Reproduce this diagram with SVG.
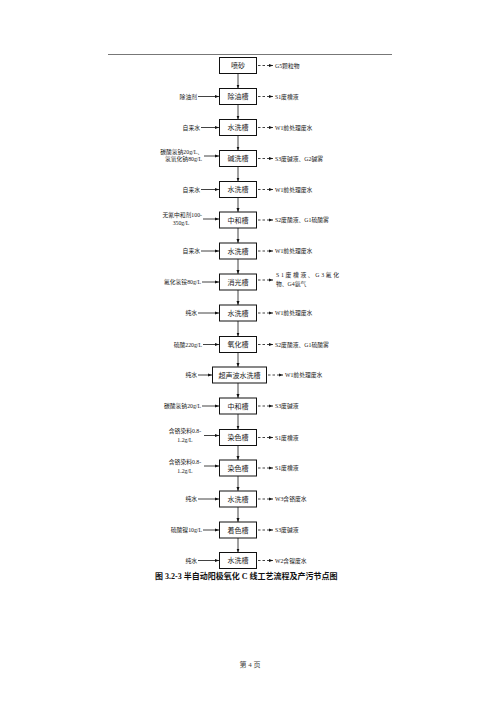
<svg xmlns="http://www.w3.org/2000/svg" width="500" height="707" viewBox="0 0 500 707">
<style>
.bx{fill:#fff;stroke:#111;stroke-width:1}
.bt{font-family:"Liberation Serif","Noto Sans CJK SC",serif;font-size:7px;fill:#1a1a1a;text-anchor:middle}
.lt{font-family:"Liberation Serif","Noto Sans CJK SC",serif;font-size:5.8px;fill:#1a1a1a}
.r{text-anchor:end}
.m{text-anchor:middle}
.sl{stroke:#111;stroke-width:0.8;fill:none}
.dl{stroke:#111;stroke-width:0.8;fill:none;stroke-dasharray:2.5,2}
</style>
<defs>
<marker id="ah" markerWidth="4" markerHeight="4" refX="4" refY="2" orient="auto" markerUnits="userSpaceOnUse">
<path d="M0,0.5 L4,2 L0,3.5 Z" fill="#111"/>
</marker>
</defs>
<rect width="500" height="707" fill="#fff"/>
<line x1="108" y1="54.5" x2="392" y2="54.5" stroke="#777" stroke-width="1"/>

<g id="connectors">
<!-- vertical -->
<line class="sl" x1="238" y1="73.5" x2="238" y2="88.5" marker-end="url(#ah)"/>
<line class="sl" x1="238" y1="104.5" x2="238" y2="119.5" marker-end="url(#ah)"/>
<line class="sl" x1="238" y1="135.5" x2="238" y2="150.5" marker-end="url(#ah)"/>
<line class="sl" x1="238" y1="166.5" x2="238" y2="181.5" marker-end="url(#ah)"/>
<line class="sl" x1="238" y1="197.5" x2="238" y2="212" marker-end="url(#ah)"/>
<line class="sl" x1="238" y1="228" x2="238" y2="243" marker-end="url(#ah)"/>
<line class="sl" x1="238" y1="259" x2="238" y2="274" marker-end="url(#ah)"/>
<line class="sl" x1="238" y1="290" x2="238" y2="305" marker-end="url(#ah)"/>
<line class="sl" x1="238" y1="321" x2="238" y2="336.5" marker-end="url(#ah)"/>
<line class="sl" x1="238" y1="352.5" x2="238" y2="367" marker-end="url(#ah)"/>
<line class="sl" x1="238" y1="383" x2="238" y2="398" marker-end="url(#ah)"/>
<line class="sl" x1="238" y1="414" x2="238" y2="429.5" marker-end="url(#ah)"/>
<line class="sl" x1="238" y1="445.5" x2="238" y2="460" marker-end="url(#ah)"/>
<line class="sl" x1="238" y1="476" x2="238" y2="491" marker-end="url(#ah)"/>
<line class="sl" x1="238" y1="507" x2="238" y2="522" marker-end="url(#ah)"/>
<line class="sl" x1="238" y1="538" x2="238" y2="552.5" marker-end="url(#ah)"/>
<!-- left inputs -->
<line class="sl" x1="198" y1="96.5" x2="219" y2="96.5" marker-end="url(#ah)"/>
<line class="sl" x1="201" y1="127.5" x2="219" y2="127.5" marker-end="url(#ah)"/>
<line class="sl" x1="204" y1="156" x2="219" y2="156" marker-end="url(#ah)"/>
<line class="sl" x1="201" y1="189.5" x2="219" y2="189.5" marker-end="url(#ah)"/>
<line class="sl" x1="203" y1="219" x2="219" y2="219" marker-end="url(#ah)"/>
<line class="sl" x1="201" y1="251" x2="219" y2="251" marker-end="url(#ah)"/>
<line class="sl" x1="202" y1="282" x2="219" y2="282" marker-end="url(#ah)"/>
<line class="sl" x1="198" y1="313" x2="219" y2="313" marker-end="url(#ah)"/>
<line class="sl" x1="203" y1="344.5" x2="219" y2="344.5" marker-end="url(#ah)"/>
<line class="sl" x1="198" y1="375" x2="212" y2="375" marker-end="url(#ah)"/>
<line class="sl" x1="202" y1="406" x2="219" y2="406" marker-end="url(#ah)"/>
<line class="sl" x1="204" y1="435.5" x2="219" y2="435.5" marker-end="url(#ah)"/>
<line class="sl" x1="204" y1="466" x2="219" y2="466" marker-end="url(#ah)"/>
<line class="sl" x1="198" y1="499" x2="219" y2="499" marker-end="url(#ah)"/>
<line class="sl" x1="203" y1="530" x2="219" y2="530" marker-end="url(#ah)"/>
<line class="sl" x1="198" y1="560.5" x2="219" y2="560.5" marker-end="url(#ah)"/>
<!-- right outputs -->
<line class="dl" x1="258" y1="65.5" x2="273" y2="65.5" marker-end="url(#ah)"/>
<line class="dl" x1="258" y1="96.5" x2="273" y2="96.5" marker-end="url(#ah)"/>
<line class="dl" x1="258" y1="127.5" x2="273" y2="127.5" marker-end="url(#ah)"/>
<line class="dl" x1="258" y1="158.5" x2="273" y2="158.5" marker-end="url(#ah)"/>
<line class="dl" x1="258" y1="189.5" x2="273" y2="189.5" marker-end="url(#ah)"/>
<line class="dl" x1="258" y1="220" x2="273" y2="220" marker-end="url(#ah)"/>
<line class="dl" x1="258" y1="251" x2="273" y2="251" marker-end="url(#ah)"/>
<line class="dl" x1="258" y1="280" x2="273" y2="280" marker-end="url(#ah)"/>
<line class="dl" x1="258" y1="313" x2="273" y2="313" marker-end="url(#ah)"/>
<line class="dl" x1="258" y1="344.5" x2="273" y2="344.5" marker-end="url(#ah)"/>
<line class="dl" x1="268" y1="375" x2="283" y2="375" marker-end="url(#ah)"/>
<line class="dl" x1="258" y1="406" x2="273" y2="406" marker-end="url(#ah)"/>
<line class="dl" x1="258" y1="437.5" x2="273" y2="437.5" marker-end="url(#ah)"/>
<line class="dl" x1="258" y1="468" x2="273" y2="468" marker-end="url(#ah)"/>
<line class="dl" x1="258" y1="499" x2="273" y2="499" marker-end="url(#ah)"/>
<line class="dl" x1="258" y1="530" x2="273" y2="530" marker-end="url(#ah)"/>
<line class="dl" x1="258" y1="560.5" x2="273" y2="560.5" marker-end="url(#ah)"/>
</g>

<g id="n1"><rect class="bx" x="219.5" y="57.5" width="37" height="16"/><text class="bt" x="238" y="68">喷砂</text><text class="lt" x="275" y="67.5">G5颗粒物</text></g>
<g id="n2"><rect class="bx" x="219.5" y="88.5" width="37" height="16"/><text class="bt" x="238" y="99">除油槽</text><text class="lt r" x="197" y="98.5">除油剂</text><text class="lt" x="275" y="98.5">S1废槽液</text></g>
<g id="n3"><rect class="bx" x="219.5" y="119.5" width="37" height="16"/><text class="bt" x="238" y="130">水洗槽</text><text class="lt r" x="200" y="129.5">自来水</text><text class="lt" x="275" y="129.5">W1前处理废水</text></g>
<g id="n4"><rect class="bx" x="219.5" y="150.5" width="37" height="16"/><text class="bt" x="238" y="161">碱洗槽</text><text class="lt r" x="203" y="154">碳酸氢钠20g/L、</text><text class="lt r" x="202" y="161">氢氧化钠80g/L</text><text class="lt" x="275" y="160.5">S3废碱液、G2碱雾</text></g>
<g id="n5"><rect class="bx" x="219.5" y="181.5" width="37" height="16"/><text class="bt" x="238" y="192">水洗槽</text><text class="lt r" x="200" y="191.5">自来水</text><text class="lt" x="275" y="191.5">W1前处理废水</text></g>
<g id="n6"><rect class="bx" x="219.5" y="212" width="37" height="16"/><text class="bt" x="238" y="222.5">中和槽</text><text class="lt r" x="202" y="217">无氰中和剂100-</text><text class="lt m" x="181" y="225">350g/L</text><text class="lt" x="275" y="222">S2废酸液、G1硫酸雾</text></g>
<g id="n7"><rect class="bx" x="219.5" y="243" width="37" height="16"/><text class="bt" x="238" y="253.5">水洗槽</text><text class="lt r" x="200" y="253">自来水</text><text class="lt" x="275" y="253">W1前处理废水</text></g>
<g id="n8"><rect class="bx" x="219.5" y="274" width="37" height="16"/><text class="bt" x="238" y="284.5">消光槽</text><text class="lt r" x="201" y="284">氟化氢铵80g/L</text><text class="lt" x="276" y="277" textLength="63" lengthAdjust="spacing">S1废槽液、G3氟化</text><text class="lt" x="276" y="286">物、G4氨气</text></g>
<g id="n9"><rect class="bx" x="219.5" y="305" width="37" height="16"/><text class="bt" x="238" y="315.5">水洗槽</text><text class="lt r" x="197" y="315">纯水</text><text class="lt" x="275" y="315">W1前处理废水</text></g>
<g id="n10"><rect class="bx" x="219.5" y="336.5" width="37" height="16"/><text class="bt" x="238" y="347">氧化槽</text><text class="lt r" x="202" y="346.5">硫酸220g/L</text><text class="lt" x="275" y="346.5">S2废酸液、G1硫酸雾</text></g>
<g id="n11"><rect class="bx" x="212.5" y="367" width="54" height="16"/><text class="bt" x="239.5" y="377.5">超声波水洗槽</text><text class="lt r" x="197" y="377">纯水</text><text class="lt" x="285" y="377">W1前处理废水</text></g>
<g id="n12"><rect class="bx" x="219.5" y="398" width="37" height="16"/><text class="bt" x="238" y="408.5">中和槽</text><text class="lt r" x="201" y="408">碳酸氢钠20g/L</text><text class="lt" x="275" y="408">S3废碱液</text></g>
<g id="n13"><rect class="bx" x="219.5" y="429.5" width="37" height="16"/><text class="bt" x="238" y="440">染色槽</text><text class="lt m" x="185" y="433">含铬染料0.8-</text><text class="lt m" x="185" y="442">1.2g/L</text><text class="lt" x="275" y="439.5">S1废槽液</text></g>
<g id="n14"><rect class="bx" x="219.5" y="460" width="37" height="16"/><text class="bt" x="238" y="470.5">染色槽</text><text class="lt m" x="185" y="463.5">含铬染料0.8-</text><text class="lt m" x="185" y="472.5">1.2g/L</text><text class="lt" x="275" y="470">S1废槽液</text></g>
<g id="n15"><rect class="bx" x="219.5" y="491" width="37" height="16"/><text class="bt" x="238" y="501.5">水洗槽</text><text class="lt r" x="197" y="501">纯水</text><text class="lt" x="275" y="501">W3含铬废水</text></g>
<g id="n16"><rect class="bx" x="219.5" y="522" width="37" height="16"/><text class="bt" x="238" y="532.5">着色槽</text><text class="lt r" x="202" y="532">硫酸镍10g/L</text><text class="lt" x="275" y="532">S3废碱液</text></g>
<g id="n17"><rect class="bx" x="219.5" y="552.5" width="37" height="16"/><text class="bt" x="238" y="563">水洗槽</text><text class="lt r" x="197" y="562.5">纯水</text><text class="lt" x="275" y="562.5">W2含镍废水</text></g>

<text x="155" y="579" font-family="Liberation Serif,'Noto Sans CJK SC',serif" font-size="8" font-weight="bold" fill="#111">图 3.2-3  半自动阳极氧化 C 线工艺流程及产污节点图</text>
<text x="250" y="667" font-family="Liberation Serif,'Noto Sans CJK SC',serif" font-size="7" fill="#444" text-anchor="middle">第 4 页</text>
</svg>
